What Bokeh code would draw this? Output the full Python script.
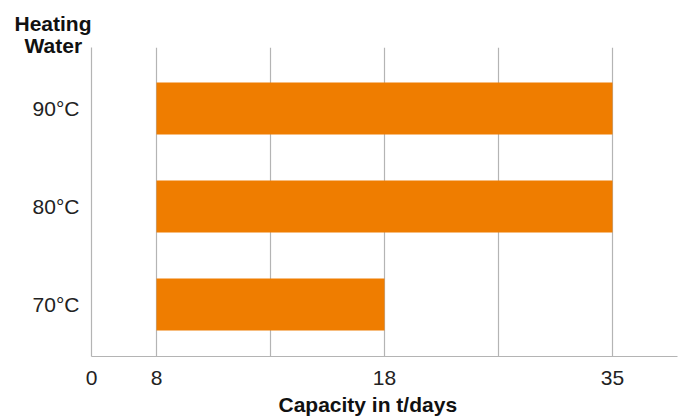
import numpy as np
from bokeh.plotting import figure
from bokeh.models import Range1d, FixedTicker, Title
from bokeh.embed import file_html
from bokeh.resources import INLINE

# ---- data ----
categories = ["70°C", "80°C", "90°C"]
bar_start = [8, 8, 8]
capacity = [18, 35, 35]
tick_values = [0, 8, 18, 35]
tick_labels = ["0", "8", "18", "35"]
grid_values = [8, 13, 18, 26.5, 35]

# the original axis is not linear: labelled values sit at these grid slots
anchor_values = [0, 8, 18, 35]
anchor_slots = [0, 0.57, 2.57, 4.57]


def to_slot(v):
    return list(np.interp(v, anchor_values, anchor_slots))


ypos = [i + 0.5 for i in range(len(categories))]

FONT = "Liberation Sans"
ORANGE = "#EF7D00"
GRAY = "#b4b4b4"

p = figure(width=683, height=419, output_backend="svg", toolbar_location=None,
           x_range=Range1d(0, 5.14), y_range=Range1d(-0.03, 3.123),
           min_border_left=91, min_border_right=6, min_border_top=47,
           min_border_bottom=63)
p.outline_line_color = None
p.background_fill_color = "white"
p.title = None

p.hbar(y=ypos, left=to_slot(bar_start), right=to_slot(capacity), height=0.53,
       fill_color=ORANGE, line_color=None)

# axes
p.xaxis.ticker = FixedTicker(ticks=to_slot(tick_values))
p.xaxis.major_label_overrides = {s: l for s, l in zip(to_slot(tick_values), tick_labels)}
p.yaxis.ticker = FixedTicker(ticks=ypos)
p.yaxis.major_label_overrides = {y: c for y, c in zip(ypos, categories)}
for ax in (p.xaxis, p.yaxis):
    ax.axis_line_color = GRAY
    ax.axis_line_width = 1.2
    ax.major_tick_line_color = None
    ax.minor_tick_line_color = None
    ax.major_label_text_font = FONT
    ax.major_label_text_font_size = "21px"
    ax.major_label_text_color = "#222222"
p.xaxis.major_label_standoff = 8
p.yaxis.major_label_standoff = 6

p.xgrid.ticker = FixedTicker(ticks=to_slot(grid_values))
p.xgrid.grid_line_color = GRAY
p.xgrid.grid_line_width = 1.2
p.ygrid.grid_line_color = None

# titles
tkw = dict(text_font=FONT, text_font_size="21px", text_font_style="bold",
           text_color="#111111", align="left")
p.add_layout(Title(text="Capacity in t/days", offset=187, standoff=7, **tkw), "below")
p.add_layout(Title(text="Water", offset=-67, standoff=-19, **tkw), "above")
p.add_layout(Title(text="Heating", offset=-77, standoff=14, **tkw), "above")

open("out.html", "w").write(file_html(p, INLINE))
